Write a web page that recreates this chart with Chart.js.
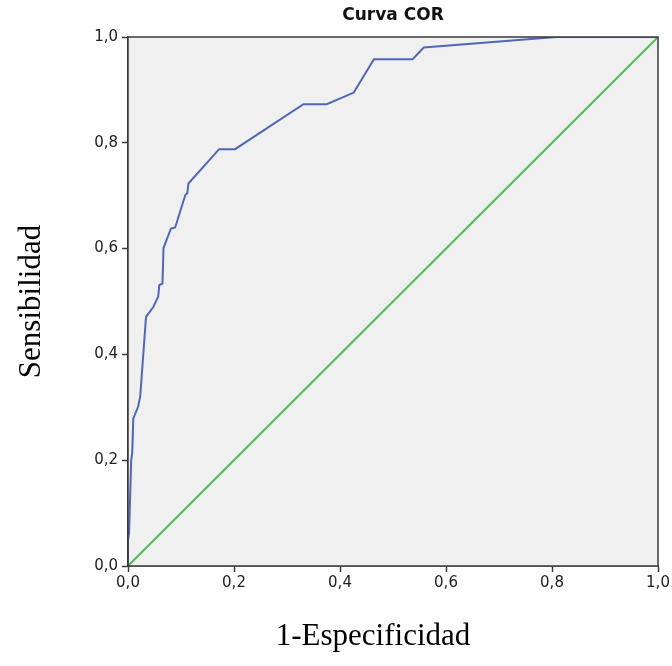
<!DOCTYPE html>
<html>
<head>
<meta charset="utf-8">
<script src="https://cdn.jsdelivr.net/npm/chart.js@4.4.1/dist/chart.umd.min.js"></script>
<style>
  html, body { margin: 0; padding: 0; background: #ffffff; }
  #wrap { width: 672px; height: 666px; position: relative; }
</style>
</head>
<body>
<div id="wrap"><canvas id="c" width="672" height="666"></canvas></div>
<script>
// ROC curve (1-Especificidad, Sensibilidad)
const fpr = [0.000, 0.000, 0.002, 0.006, 0.008, 0.010, 0.019, 0.023, 0.034, 0.048, 0.054, 0.057, 0.059, 0.065, 0.067, 0.081, 0.089, 0.108, 0.112, 0.114, 0.172, 0.202, 0.331, 0.375, 0.426, 0.464, 0.537, 0.558, 0.808, 1.000];
const tpr = [0.000, 0.049, 0.062, 0.200, 0.214, 0.279, 0.301, 0.320, 0.471, 0.490, 0.503, 0.509, 0.531, 0.534, 0.601, 0.638, 0.640, 0.701, 0.705, 0.723, 0.788, 0.788, 0.873, 0.873, 0.895, 0.958, 0.958, 0.980, 1.000, 1.000];
// Reference diagonal
const refX = [0, 1];
const refY = [0, 1];
const tickValues = [0, 0.2, 0.4, 0.6, 0.8, 1.0];
const chartTitle = 'Curva COR';
const xTitle = '1-Especificidad';
const yTitle = 'Sensibilidad';

const toPts = (xs, ys) => xs.map((x, i) => ({ x: x, y: ys[i] }));
const fmt = v => Number(v).toFixed(1).replace('.', ',');

const plotFrame = {
  id: 'plotFrame',
  beforeDatasetsDraw(chart) {
    const { ctx, chartArea: a } = chart;
    ctx.save();
    ctx.fillStyle = '#f0f0f0';
    ctx.fillRect(a.left, a.top, a.right - a.left, a.bottom - a.top);
    ctx.restore();
  },
  afterDatasetsDraw(chart) {
    const { ctx, chartArea: a } = chart;
    ctx.save();
    ctx.strokeStyle = '#3a3a3a';
    ctx.lineWidth = 1.5;
    ctx.strokeRect(a.left, a.top, a.right - a.left, a.bottom - a.top);
    ctx.restore();
  },
  afterDraw(chart) {
    // x-axis title, placed slightly left of the plot centre as in the original
    const { ctx, chartArea: a } = chart;
    ctx.save();
    ctx.fillStyle = '#000000';
    ctx.font = '31px "Liberation Serif"';
    ctx.textAlign = 'center';
    ctx.textBaseline = 'middle';
    ctx.fillText(xTitle, (a.left + a.right) / 2 - 20, 637);
    ctx.restore();
  }
};

new Chart(document.getElementById('c'), {
  type: 'scatter',
  data: {
    datasets: [
      {
        label: 'COR',
        data: toPts(fpr, tpr),
        showLine: true,
        borderColor: '#5068b4',
        borderWidth: 2,
        pointRadius: 0,
        tension: 0,
        order: 1
      },
      {
        label: 'Referencia',
        data: toPts(refX, refY),
        showLine: true,
        borderColor: '#4fbb55',
        borderWidth: 2,
        pointRadius: 0,
        order: 2
      }
    ]
  },
  options: {
    responsive: false,
    animation: false,
    events: [],
    layout: { padding: { left: 0, right: 14, top: 0, bottom: 0 } },
    plugins: {
      legend: { display: false },
      tooltip: { enabled: false },
      title: {
        display: true,
        fullSize: false,
        text: chartTitle,
        color: '#111111',
        font: { family: 'DejaVu Sans', size: 17, weight: 'bold' },
        padding: { top: 5, bottom: 11.6 }
      }
    },
    scales: {
      x: {
        type: 'linear',
        min: 0,
        max: 1,
        afterBuildTicks(scale) { scale.ticks = tickValues.map(v => ({ value: v })); },
        afterFit(scale) { scale.height = 100; },
        ticks: {
          callback: v => fmt(v),
          color: '#222222',
          font: { family: 'DejaVu Sans', size: 15 },
          padding: 2,
          maxRotation: 0
        },
        grid: { drawOnChartArea: false, drawTicks: true, tickLength: 6, tickWidth: 1.5, color: '#3a3a3a' },
        border: { display: true, color: '#3a3a3a', width: 1.5 },
        title: { display: false, text: xTitle }
      },
      y: {
        type: 'linear',
        min: 0,
        max: 1,
        afterBuildTicks(scale) { scale.ticks = tickValues.map(v => ({ value: v })); },
        afterFit(scale) { scale.width = 128; },
        ticks: {
          callback: v => fmt(v),
          color: '#222222',
          font: { family: 'DejaVu Sans', size: 15 },
          padding: 4
        },
        grid: { drawOnChartArea: false, drawTicks: true, tickLength: 6, tickWidth: 1.5, color: '#3a3a3a' },
        border: { display: true, color: '#3a3a3a', width: 1.5 },
        title: {
          display: true,
          text: yTitle,
          color: '#000000',
          font: { family: 'Liberation Serif', size: 31 },
          padding: { top: 13, bottom: 0 }
        }
      }
    }
  },
  plugins: [plotFrame]
});
</script>
</body>
</html>
